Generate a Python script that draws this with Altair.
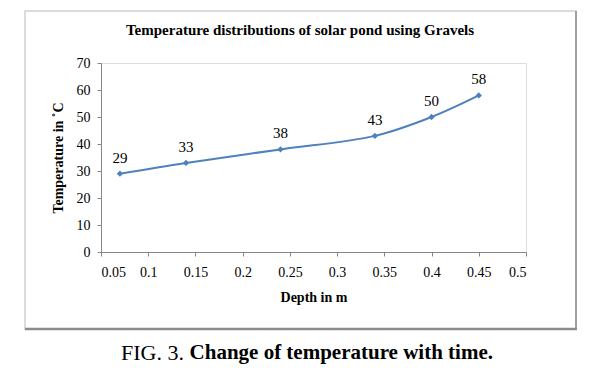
import altair as alt
import pandas as pd

depth = [0.07, 0.14, 0.24, 0.34, 0.40, 0.45]
temp = [29, 33, 38, 43, 50, 58]
x_ticks = [0.05, 0.1, 0.15, 0.2, 0.25, 0.3, 0.35, 0.4, 0.45, 0.5]
y_ticks = [0, 10, 20, 30, 40, 50, 60, 70]

df = pd.DataFrame({"depth": depth, "temp": temp})
FONT = "Liberation Serif"
BLUE = "#4F81BD"
W, H = 425, 189
L, T = 101, 63

x = alt.X("depth:Q", scale=alt.Scale(domain=[0.05, 0.5], nice=False, zero=False),
          axis=alt.Axis(values=x_ticks, title="Depth in m", grid=False,
                        labelExpr="format(datum.value, '.2~f')",
                        labelPadding=9, titlePadding=11, tickSize=4,
                        domainColor="#868686", tickColor="#868686",
                        labelFontSize=14, titleFontSize=14, titleFontWeight="bold",
                        labelFont=FONT, titleFont=FONT, labelColor="black", titleColor="black"))
y = alt.Y("temp:Q", scale=alt.Scale(domain=[0, 70], nice=False),
          axis=alt.Axis(values=y_ticks, title="Temperature in ˚C", grid=False,
                        labelPadding=7, titlePadding=11, tickSize=4,
                        domainColor="#868686", tickColor="#868686",
                        labelFontSize=14, titleFontSize=14, titleFontWeight="bold",
                        labelFont=FONT, titleFont=FONT, labelColor="black", titleColor="black"))

base = alt.Chart(df)
line = base.mark_line(color=BLUE, strokeWidth=2, interpolate="catmull-rom").encode(x=x, y=y)
pts = base.mark_point(shape="diamond", filled=True, color=BLUE, size=40, opacity=1).encode(x=x, y=y)
labels = base.mark_text(dy=-16, font=FONT, fontSize=15, color="black").encode(
    x=x, y=y, text=alt.Text("temp:Q"))

one = pd.DataFrame({"a": [0]})
bx0, bx1, by0, by1 = 25 - L, 576 - L, 11 - T, 329 - T
border = alt.Chart(one).mark_rect(fill=None, stroke="#D0D0D0", strokeWidth=1.5).encode(
    x=alt.value(bx0), x2=alt.value(bx1), y=alt.value(by0), y2=alt.value(by1))
right_edge = alt.Chart(one).mark_rule(color="#8C8C8C", strokeWidth=1.5).encode(
    x=alt.value(bx1), y=alt.value(by0), y2=alt.value(by1))
bottom_edge = alt.Chart(one).mark_rule(color="#8C8C8C", strokeWidth=2.5).encode(
    x=alt.value(bx0), x2=alt.value(bx1 + 1), y=alt.value(by1))

title = alt.Chart(pd.DataFrame({"t": ["Temperature distributions of solar pond using Gravels"]})).mark_text(
    font=FONT, fontSize=15, fontWeight="bold", align="center", baseline="middle", color="black").encode(
    text="t:N", x=alt.value(300 - L), y=alt.value(30 - T))

cap1 = alt.Chart(pd.DataFrame({"t": ["FIG. 3."]})).mark_text(
    font=FONT, fontSize=22, align="right", baseline="middle", color="black").encode(
    text="t:N", x=alt.value(184 - L), y=alt.value(353 - T))
cap2 = alt.Chart(pd.DataFrame({"t": ["Change of temperature with time."]})).mark_text(
    font=FONT, fontSize=21, fontWeight="bold", align="right", baseline="middle", color="black").encode(
    text="t:N", x=alt.value(493 - L), y=alt.value(353 - T))

chart = alt.layer(border, right_edge, bottom_edge, title, line, pts, labels, cap1, cap2).properties(
    width=W, height=H,
    autosize=alt.AutoSizeParams(type="none"),
    padding={"left": L, "top": T, "right": 598 - L - W, "bottom": 375 - T - H},
).configure_view(stroke=None).configure(background="white")

chart.save("out.html", embed_options={"renderer": "svg", "actions": False})
